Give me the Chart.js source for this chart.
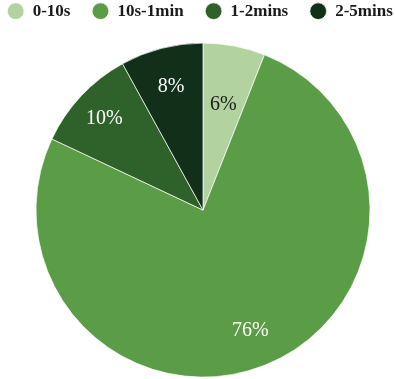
<!DOCTYPE html>
<html>
<head>
<meta charset="utf-8">
<script src="https://cdn.jsdelivr.net/npm/chart.js@4/dist/chart.umd.min.js"></script>
<style>
  html, body { margin: 0; padding: 0; background: #fff; }
  #wrap { width: 395px; height: 379px; }
</style>
</head>
<body>
<div id="wrap"><canvas id="c" width="395" height="379"></canvas></div>
<script>
// Share of response times by duration bucket
const categories = ['0-10s', '10s-1min', '1-2mins', '2-5mins'];
const shares = [6, 76, 10, 8];
const sliceColors = ['#b2d39f', '#5b9c46', '#2f622b', '#112f19'];
const labelColors = ['#1a1a1a', '#ffffff', '#ffffff', '#ffffff'];
const labelRadius = [0.65, 0.77, 0.81, 0.77];

// Leaves a gap below the legend and a left margin around the pie
const pieFrame = {
  id: 'pieFrame',
  afterLayout(chart) {
    const a = chart.chartArea;
    a.left += 11;
    a.top += 11.5;
    a.width = a.right - a.left;
    a.height = a.bottom - a.top;
  }
};

// Draws each slice's percentage inside the slice
const sliceLabels = {
  id: 'sliceLabels',
  afterDatasetsDraw(chart) {
    const ctx = chart.ctx;
    const meta = chart.getDatasetMeta(0);
    const total = shares.reduce((a, b) => a + b, 0);
    ctx.save();
    ctx.font = '20px "Liberation Serif", "Times New Roman", serif';
    ctx.textAlign = 'center';
    ctx.textBaseline = 'middle';
    meta.data.forEach((arc, i) => {
      const p = arc.getProps(['x', 'y', 'startAngle', 'endAngle', 'outerRadius'], true);
      const mid = (p.startAngle + p.endAngle) / 2;
      const r = p.outerRadius * labelRadius[i];
      ctx.fillStyle = labelColors[i];
      ctx.fillText(Math.round(shares[i] / total * 100) + '%', p.x + Math.cos(mid) * r, p.y + Math.sin(mid) * r + 1.5);
    });
    ctx.restore();
  }
};

new Chart(document.getElementById('c'), {
  type: 'pie',
  data: {
    labels: categories,
    datasets: [{
      data: shares,
      backgroundColor: sliceColors,
      borderColor: '#ffffff',
      borderWidth: 0.7,
      radius: 167,
      clip: false
    }]
  },
  options: {
    responsive: false,
    devicePixelRatio: 1,
    animation: false,
    layout: { padding: { top: -18.8, bottom: 0, left: -14.3, right: -30 } },
    plugins: {
      tooltip: { enabled: false },
      legend: {
        position: 'top',
        align: 'start',
        labels: {
          usePointStyle: true,
          pointStyle: 'circle',
          boxWidth: 17,
          boxHeight: 11.8,
          padding: 21.5,
          color: '#1a1a1a',
          font: { family: '"Liberation Serif", "Times New Roman", serif', size: 17, weight: 'bold' }
        }
      }
    }
  },
  plugins: [pieFrame, sliceLabels]
});
</script>
</body>
</html>
